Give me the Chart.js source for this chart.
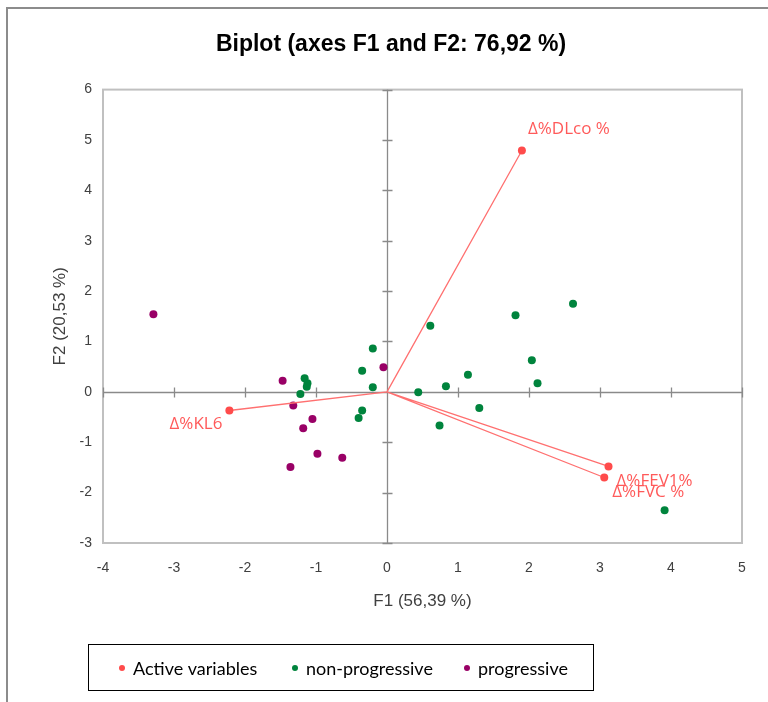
<!DOCTYPE html>
<html>
<head>
<meta charset="utf-8">
<script src="https://cdn.jsdelivr.net/npm/chart.js@4"></script>
<style>
  html, body { margin: 0; padding: 0; background: #fff; }
  #wrap { width: 768px; height: 702px; position: relative; }
</style>
</head>
<body>
<div id="wrap"><canvas id="biplot" width="768" height="702"></canvas></div>
<script>
// Active variables (loadings on F1 / F2)
const varNames = ['Δ%DLco %', 'Δ%KL6', 'Δ%FEV1%', 'Δ%FVC %'];
const varF1 = [1.90, -2.22, 3.12, 3.06];
const varF2 = [4.79, -0.37, -1.48, -1.70];

// Observations
const nonProgF1 = [-0.20, -0.35, -0.20, -1.16, -1.12, -1.13, -1.22, -0.35, -0.40,
  2.62, 1.81, 0.61, 2.04, 1.14, 0.83, 2.12, 0.44, 1.30, 0.74, 3.91];
const nonProgF2 = [0.86, 0.42, 0.09, 0.27, 0.17, 0.10, -0.04, -0.37, -0.52,
  1.75, 1.52, 1.31, 0.63, 0.34, 0.11, 0.17, -0.01, -0.32, -0.67, -2.35];

const progF1 = [-3.29, -0.05, -1.47, -1.32, -1.05, -1.18, -0.98, -0.63, -1.36];
const progF2 = [1.54, 0.49, 0.22, -0.27, -0.54, -0.72, -1.23, -1.31, -1.49];

// Axis ticks
const xTicks = [-4, -3, -2, -1, 0, 1, 2, 3, 4, 5];
const yTicks = [-3, -2, -1, 0, 1, 2, 3, 4, 5, 6];

const toPoints = (xs, ys) => xs.map((x, i) => ({ x: x, y: ys[i] }));

// vectors from origin: origin, var, origin, var ...
const vectorPoints = [];
varF1.forEach((x, i) => {
  vectorPoints.push({ x: 0, y: 0 });
  vectorPoints.push({ x: x, y: varF2[i] });
});

const RED = '#ff4b4b';
const GREEN = '#00843d';
const PURPLE = '#990066';

// frame, plot box, zero axes with cross ticks, variable labels, legend
const decorPlugin = {
  id: 'decor',
  beforeDraw(chart) {
    const ctx = chart.ctx;
    ctx.save();
    ctx.strokeStyle = '#8c8c8c';
    ctx.lineWidth = 2;
    ctx.beginPath();
    ctx.moveTo(7, 702);
    ctx.lineTo(7, 8);
    ctx.lineTo(768, 8);
    ctx.stroke();
    ctx.restore();
  },
  beforeDatasetsDraw(chart) {
    const { ctx, chartArea: a, scales: { x, y } } = chart;
    ctx.save();
    ctx.strokeStyle = '#c0c0c0';
    ctx.lineWidth = 2;
    ctx.strokeRect(a.left, a.top, a.right - a.left, a.bottom - a.top);

    const x0 = Math.round(x.getPixelForValue(0)) + 0.5;
    const y0 = Math.round(y.getPixelForValue(0)) + 0.5;
    ctx.strokeStyle = '#8a8a8a';
    ctx.lineWidth = 1.3;
    ctx.beginPath();
    ctx.moveTo(x0, a.top);
    ctx.lineTo(x0, a.bottom);
    ctx.moveTo(a.left, y0);
    ctx.lineTo(a.right, y0);
    yTicks.forEach(v => {
      const py = Math.round(y.getPixelForValue(v)) + 0.5;
      ctx.moveTo(x0 - 5, py);
      ctx.lineTo(x0 + 5, py);
    });
    xTicks.forEach(v => {
      const px = Math.round(x.getPixelForValue(v)) + 0.5;
      ctx.moveTo(px, y0 - 5);
      ctx.lineTo(px, y0 + 5);
    });
    ctx.stroke();
    ctx.restore();
  },
  afterDatasetsDraw(chart) {
    const { ctx, scales: { x, y } } = chart;
    ctx.save();
    ctx.fillStyle = '#ff5a5a';
    ctx.font = '17px "Open Sans", sans-serif';
    ctx.textBaseline = 'middle';
    const offs = [[6, -21, 'left'], [-7, 14, 'right'], [8, 15, 'left'], [8, 15, 'left']];
    varNames.forEach((n, i) => {
      const px = x.getPixelForValue(varF1[i]);
      const py = y.getPixelForValue(varF2[i]);
      ctx.textAlign = offs[i][2];
      ctx.fillText(n, px + offs[i][0], py + offs[i][1]);
    });

    // legend box
    ctx.strokeStyle = '#000';
    ctx.lineWidth = 1;
    ctx.strokeRect(88.5, 644.5, 505, 46);
    const items = [
      [chart.data.datasets[0].label, RED, 122],
      [chart.data.datasets[1].label, GREEN, 295],
      [chart.data.datasets[2].label, PURPLE, 467]
    ];
    ctx.font = '18px Lato, sans-serif';
    ctx.textAlign = 'left';
    items.forEach(([label, color, lx]) => {
      ctx.fillStyle = color;
      ctx.beginPath();
      ctx.arc(lx, 668, 3, 0, Math.PI * 2);
      ctx.fill();
      ctx.fillStyle = '#000';
      ctx.fillText(label, lx + 11, 669);
    });
    ctx.restore();
  }
};

new Chart(document.getElementById('biplot'), {
  type: 'scatter',
  data: {
    datasets: [
      {
        label: 'Active variables',
        data: vectorPoints,
        showLine: true,
        borderColor: '#ff7070',
        borderWidth: 1.3,
        backgroundColor: RED,
        pointBorderWidth: 0,
        pointRadius: ctx => (ctx.dataIndex % 2 === 0 ? 0 : 4),
        pointHoverRadius: 0
      },
      {
        label: 'non-progressive',
        data: toPoints(nonProgF1, nonProgF2),
        backgroundColor: GREEN,
        borderWidth: 0,
        pointRadius: 4
      },
      {
        label: 'progressive',
        data: toPoints(progF1, progF2),
        backgroundColor: PURPLE,
        borderWidth: 0,
        pointRadius: 4
      }
    ]
  },
  options: {
    responsive: false,
    animation: false,
    layout: { padding: { left: 40, right: 26, top: 10, bottom: 90 } },
    plugins: {
      legend: { display: false },
      tooltip: { enabled: false },
      title: {
        display: true,
        text: 'Biplot (axes F1 and F2: 76,92 %)',
        color: '#000',
        font: { family: '"Liberation Sans Narrow", "Liberation Sans", Arial, sans-serif', size: 23, weight: 'bold' },
        padding: { top: 21, bottom: 31 }
      }
    },
    scales: {
      x: {
        type: 'linear',
        min: -4,
        max: 5,
        afterFit: s => { s.height = 69; },
        afterBuildTicks: s => { s.ticks = xTicks.map(v => ({ value: v })); },
        grid: { display: false, drawTicks: false },
        border: { display: false },
        ticks: { color: '#404040', font: { family: '"Liberation Sans", Arial, sans-serif', size: 14 }, padding: 17 },
        title: {
          display: true,
          text: 'F1 (56,39 %)',
          color: '#404040',
          font: { family: '"Liberation Sans", Arial, sans-serif', size: 17 },
          padding: { top: 0, bottom: 0 }
        }
      },
      y: {
        type: 'linear',
        min: -3,
        max: 6,
        afterFit: s => { s.width = 63; },
        afterBuildTicks: s => { s.ticks = yTicks.map(v => ({ value: v })); },
        grid: { display: false, drawTicks: false },
        border: { display: false },
        ticks: { color: '#404040', font: { family: '"Liberation Sans", Arial, sans-serif', size: 14 }, padding: 11 },
        title: {
          display: true,
          text: 'F2 (20,53 %)',
          color: '#404040',
          font: { family: '"Liberation Sans", Arial, sans-serif', size: 17 },
          padding: { top: 10, bottom: 0 }
        }
      }
    }
  },
  plugins: [decorPlugin]
});
</script>
</body>
</html>
